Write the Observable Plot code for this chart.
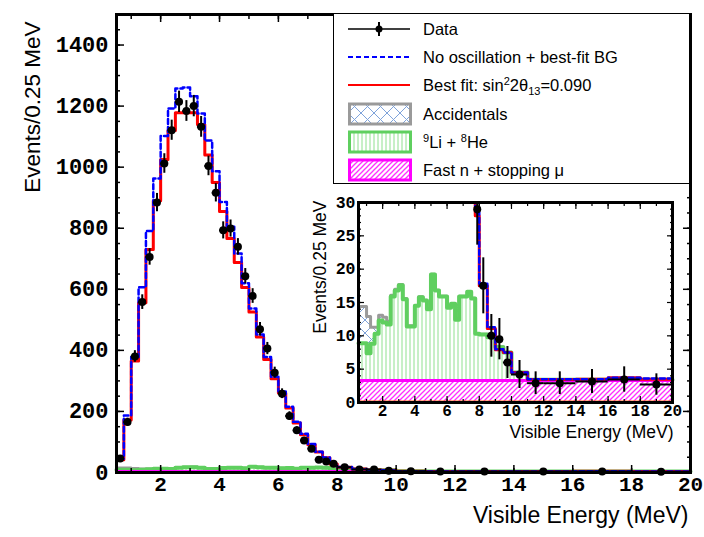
<!DOCTYPE html>
<html>
<head>
<meta charset="utf-8">
<script src="https://cdn.jsdelivr.net/npm/d3@7"></script>
<script src="https://cdn.jsdelivr.net/npm/@observablehq/plot@0.6"></script>
<style>
  html, body { margin: 0; padding: 0; background: #fff; }
  #wrap { position: relative; width: 704px; height: 537px; overflow: hidden; }
  #wrap svg { overflow: visible; }
  #legend { position: absolute; left: 333px; top: 13px; width: 355px; height: 169px;
    border: 1.5px solid #000; background: #fff; font-family: "Liberation Sans", Arial, sans-serif;
    font-size: 16.5px; color: #000; }
  #legend .row { position: absolute; left: 0; height: 28px; width: 100%; }
  #legend .sw { position: absolute; left: 14px; top: 0; }
  #legend .tx { position: absolute; left: 89px; top: 4px; white-space: nowrap; line-height: 20px; }
  #legend sup, #legend sub { font-size: 11px; line-height: 0; }
</style>
</head>
<body>
<svg width="0" height="0" style="position:absolute">
  <defs>
    <pattern id="hatchMag" patternUnits="userSpaceOnUse" width="5" height="5">
      <line x1="0" y1="5" x2="5" y2="0" style="stroke:#ff30ff;stroke-width:1.3"/>
      <line x1="-1" y1="1" x2="1" y2="-1" style="stroke:#ff30ff;stroke-width:1.3"/>
      <line x1="4" y1="6" x2="6" y2="4" style="stroke:#ff30ff;stroke-width:1.3"/>
    </pattern>
    <pattern id="hatchGreen" patternUnits="userSpaceOnUse" width="4" height="10">
      <line x1="2" y1="0" x2="2" y2="10" style="stroke:#8fe08f;stroke-width:1"/>
    </pattern>
    <pattern id="hatchAcc" patternUnits="userSpaceOnUse" width="13" height="13">
      <line x1="0" y1="0" x2="13" y2="13" style="stroke:#7fa3da;stroke-width:1"/>
      <line x1="0" y1="13" x2="13" y2="0" style="stroke:#7fa3da;stroke-width:1"/>
    </pattern>
  </defs>
</svg>
<div id="wrap"></div>
<script>
// ---- Data ----
const binEdges = [0.5,0.75,1,1.25,1.5,1.75,2,2.25,2.5,2.75,3,3.25,3.5,3.75,4,4.25,4.5,4.75,5,5.25,5.5,5.75,6,6.25,6.5,6.75,7,7.25,7.5,7.75,8,8.5,9,9.5,10,11,12,14,16,18,20];
const dataValues = [46,165,380,558,706,884,1012,1121,1214,1184,1200,1132,1004,916,793,799,739,643,578,469,406,327,258,185,138,105,78,42,36,29,17.5,10,9.5,6,4.2,2.9,2.9,3.15,3.45,2.7];
const dataErrors = [7,13,19,24,27,30,32,33,35,34,35,34,32,30,28,28,27,25,24,22,20,18,16,14,12,10,9,6.5,6,5.4,4.2,3.2,3.1,2.4,2.1,1.7,1.7,1.8,1.9,1.6];
const bestFit = [42,172,365,556,730,890,1025,1120,1178,1178,1178,1140,1040,950,855,766,688,606,526,444,370,307,260,211,162,124,91,67,48,28,17.5,11.1,7.9,7.5,4.5,3.45,3.45,3.5,3.7,3.5];
const noOsc = [45,187,378,607,791,963,1102,1192,1258,1261,1232,1176,1087,987,886,805,717,620,537,452,378,314,265,215,166,127,93,68,49,28.5,17.8,11.3,8.0,7.5,4.5,3.5,3.5,3.5,3.7,3.6];
const fastN = [3.3,3.3,3.3,3.3,3.3,3.3,3.3,3.3,3.3,3.3,3.3,3.3,3.3,3.3,3.3,3.3,3.3,3.3,3.3,3.3,3.3,3.3,3.3,3.3,3.3,3.3,3.3,3.3,3.3,3.3,3.3,3.3,3.3,3.3,3.3,3.3,3.3,3.3,3.3,3.3];
const li9He8 = [5.6,5.6,4.1,5.5,7.0,9.0,8.7,8.4,12.6,13.5,14.3,12.2,8.1,8.1,11.2,12.5,12.0,10.7,15.9,13.5,12.6,12.6,10.9,11.5,9.1,12.6,12.6,13.3,12.3,7.0,6.9,6.5,5.0,4.2,1.2,0.1,0.1,0.1,0.1,0.1];
const accidentals = [5.5,5.5,5.5,2.5,1.0,0.8,0.8,0.5,0.2,0.2,0.1,0.1,0.1,0.1,0.05,0.05,0.05,0.05,0.05,0.05,0.05,0.05,0.05,0.05,0.05,0.05,0.05,0.05,0.05,0.05,0.05,0.05,0.05,0.05,0,0,0,0,0,0];
const amcBG = [0.2,0.2,0.2,0.2,0.2,0.2,0.2,0.2,0.2,0.2,0.2,0.2,0.2,0.2,0.2,0.2,0.2,0.2,0.2,0.2,0.2,0.2,0.2,0.2,0.2,0.2,0.2,0.2,0.2,0.2,0.2,0.2,0.2,0.2,0.2,0.2,0.2,0.2,0.2,0.2];
const mainYTicks = [0,200,400,600,800,1000,1200,1400];
const xTicks = [2,4,6,8,10,12,14,16,18,20];
const insetYTicks = [0,5,10,15,20,25,30];

// ---- Derived structures ----
const greenTop = fastN.map((v,i) => v + li9He8[i]);
const grayTop = greenTop.map((v,i) => v + accidentals[i]);
const zeros = fastN.map(() => 0);
const points = dataValues.map((v,i) => ({
  x: (binEdges[i] + binEdges[i+1]) / 2, x0: binEdges[i], x1: binEdges[i+1],
  y: v, lo: v - dataErrors[i], hi: v + dataErrors[i]
}));
function stepLine(vals, fromZero) {
  const pts = [];
  if (fromZero) pts.push({x: binEdges[0], y: 0});
  vals.forEach((v,i) => { pts.push({x: binEdges[i], y: v}); pts.push({x: binEdges[i+1], y: v}); });
  return pts;
}
function stepBand(lower, upper) {
  const pts = [];
  upper.forEach((v,i) => {
    pts.push({x: binEdges[i], y1: lower[i], y2: v});
    pts.push({x: binEdges[i+1], y1: lower[i], y2: v});
  });
  return pts;
}

const RED = "#ff0000", BLUE = "#0000ff", GREEN = "#5fcf5f", GRAY = "#9a9a9a", MAG = "#ff00ff", ORANGE = "#ff6a10";
const mono = "'Liberation Mono', 'DejaVu Sans Mono', monospace";
const sans = "'Liberation Sans', Arial, sans-serif";
const fmt = d => String(d);

function layers(o) {
  const pts = o.ymax ? points.filter(d => d.y <= o.ymax) : points;
  return [
    Plot.areaY(stepBand(zeros, fastN), {x: "x", y1: "y1", y2: "y2", fill: "url(#hatchMag)"}),
    Plot.areaY(stepBand(fastN, greenTop), {x: "x", y1: "y1", y2: "y2", fill: "url(#hatchGreen)"}),
    Plot.areaY(stepBand(greenTop, grayTop), {x: "x", y1: "y1", y2: "y2", fill: "url(#hatchAcc)"}),
    Plot.line(stepLine(grayTop), {x: "x", y: "y", stroke: GRAY, strokeWidth: o.bgw - 0.5}),
    Plot.line(stepLine(greenTop), {x: "x", y: "y", stroke: GREEN, strokeWidth: o.bgw + 0.5}),
    Plot.line(stepLine(fastN), {x: "x", y: "y", stroke: MAG, strokeWidth: o.bgw - 0.5}),
    Plot.line(stepLine(amcBG), {x: "x", y: "y", stroke: ORANGE, strokeWidth: 1.5}),
    Plot.line(stepLine(bestFit, true), {x: "x", y: "y", stroke: RED, strokeWidth: o.lw + 0.5}),
    Plot.line(stepLine(noOsc, true), {x: "x", y: "y", stroke: BLUE, strokeWidth: o.lw, strokeDasharray: "5,3"}),
    Plot.ruleX(pts, {x: "x", y1: "lo", y2: "hi", stroke: "black", strokeWidth: 2}),
    Plot.ruleY(pts, {y: "y", x1: "x0", x2: "x1", stroke: "black", strokeWidth: 2}),
    Plot.dot(pts, {x: "x", y: "y", r: o.r, fill: "black", stroke: "none"})
  ];
}

// ---- Main plot ----
const main = Plot.plot({
  width: 704, height: 537,
  marginLeft: 116, marginRight: 14, marginTop: 14, marginBottom: 65,
  style: {background: "transparent", fontFamily: mono},
  x: {domain: [0.5, 20]},
  y: {domain: [0, 1500]},
  marks: [
    ...layers({bgw: 3.5, lw: 2.5, r: 4}),
    Plot.frame({stroke: "black", strokeWidth: 3}),
    Plot.axisY({anchor: "left", ticks: d3.range(0, 1501, 50), tickSize: -4, tickFormat: () => "", label: null, strokeWidth: 1.5}),
    Plot.axisY({anchor: "left", ticks: mainYTicks, tickSize: -8, tickFormat: () => "", label: null, strokeWidth: 1.5}),
    Plot.axisY({anchor: "right", ticks: d3.range(0, 1501, 50), tickSize: -4, tickFormat: () => "", label: null, strokeWidth: 1.5}),
    Plot.axisY({anchor: "right", ticks: mainYTicks, tickSize: -8, tickFormat: () => "", label: null, strokeWidth: 1.5}),
    Plot.axisX({anchor: "bottom", ticks: d3.range(1, 21, 1), tickSize: -4, tickFormat: () => "", label: null, strokeWidth: 1.5}),
    Plot.axisX({anchor: "bottom", ticks: xTicks, tickSize: -7, tickFormat: () => "", label: null, strokeWidth: 1.5}),
    Plot.axisX({anchor: "top", ticks: d3.range(1, 21, 1), tickSize: -4, tickFormat: () => "", label: null, strokeWidth: 1.5}),
    Plot.axisX({anchor: "top", ticks: xTicks, tickSize: -7, tickFormat: () => "", label: null, strokeWidth: 1.5}),
    Plot.axisY({anchor: "left", ticks: mainYTicks, tickSize: 0, tickPadding: 8, label: null, tickFormat: fmt,
      fontSize: 22, fontWeight: "bold", fontFamily: mono}),
    Plot.axisX({anchor: "bottom", ticks: xTicks, tickSize: 0, tickPadding: 4, label: null, tickFormat: fmt,
      fontSize: 21, fontWeight: "bold", fontFamily: mono}),
    Plot.text(["Events/0.25 MeV"], {text: d => d, frameAnchor: "top-left", rotate: -90, textAnchor: "end",
      dx: -92, dy: 7, fontSize: 22.5, fontFamily: sans, fill: "black"}),
    Plot.text(["Visible Energy (MeV)"], {text: d => d, frameAnchor: "bottom-right", textAnchor: "end",
      dx: -2, dy: 50, fontSize: 23, fontFamily: sans, fill: "black"})
  ]
});
main.style.position = "absolute"; main.style.left = "0px"; main.style.top = "0px";
document.getElementById("wrap").appendChild(main);

// ---- Inset ----
const inset = Plot.plot({
  width: 390, height: 260,
  marginLeft: 58, marginRight: 18, marginTop: 12, marginBottom: 48,
  style: {background: "transparent", fontFamily: mono},
  x: {domain: [0.5, 20]},
  y: {domain: [0, 30], clamp: true},
  marks: [
    Plot.frame({fill: "white"}),
    ...layers({bgw: 3.5, lw: 2.5, r: 4, ymax: 30}),
    Plot.frame({stroke: "black", strokeWidth: 3}),
    Plot.axisY({anchor: "left", ticks: d3.range(0, 31, 1), tickSize: -3, tickFormat: () => "", label: null, strokeWidth: 1.2}),
    Plot.axisY({anchor: "left", ticks: insetYTicks, tickSize: -6, tickFormat: () => "", label: null, strokeWidth: 1.2}),
    Plot.axisY({anchor: "right", ticks: d3.range(0, 31, 1), tickSize: -3, tickFormat: () => "", label: null, strokeWidth: 1.2}),
    Plot.axisY({anchor: "right", ticks: insetYTicks, tickSize: -6, tickFormat: () => "", label: null, strokeWidth: 1.2}),
    Plot.axisX({anchor: "bottom", ticks: d3.range(1, 21, 1), tickSize: -3, tickFormat: () => "", label: null, strokeWidth: 1.2}),
    Plot.axisX({anchor: "bottom", ticks: xTicks, tickSize: -6, tickFormat: () => "", label: null, strokeWidth: 1.2}),
    Plot.axisX({anchor: "top", ticks: d3.range(1, 21, 1), tickSize: -3, tickFormat: () => "", label: null, strokeWidth: 1.2}),
    Plot.axisX({anchor: "top", ticks: xTicks, tickSize: -6, tickFormat: () => "", label: null, strokeWidth: 1.2}),
    Plot.axisY({anchor: "left", ticks: insetYTicks, tickSize: 0, tickPadding: 3, label: null, tickFormat: fmt,
      fontSize: 16.5, fontWeight: "bold", fontFamily: mono}),
    Plot.axisX({anchor: "bottom", ticks: xTicks, tickSize: 0, tickPadding: 2, label: null, tickFormat: fmt,
      fontSize: 16, fontWeight: "bold", fontFamily: mono}),
    Plot.text(["Events/0.25 MeV"], {text: d => d, frameAnchor: "top-left", rotate: -90, textAnchor: "end",
      dx: -45, dy: -2, fontSize: 17.5, fontFamily: sans, fill: "black"}),
    Plot.text(["Visible Energy (MeV)"], {text: d => d, frameAnchor: "bottom-right", textAnchor: "end",
      dx: 1, dy: 35, fontSize: 17.5, fontFamily: sans, fill: "black"})
  ]
});
inset.style.position = "absolute"; inset.style.left = "300px"; inset.style.top = "190px";
document.getElementById("wrap").appendChild(inset);

// ---- Legend ----
const legendItems = [
  {sw: `<line x1="0" y1="14" x2="62" y2="14" stroke="black" stroke-width="1.5"/><line x1="31" y1="7" x2="31" y2="21" stroke="black" stroke-width="2"/><circle cx="31" cy="14" r="3.5" fill="black"/>`, text: "Data"},
  {sw: `<line x1="0" y1="14" x2="62" y2="14" stroke="${BLUE}" stroke-width="2" stroke-dasharray="5,3"/>`, text: "No oscillation + best-fit BG"},
  {sw: `<line x1="0" y1="14" x2="62" y2="14" stroke="${RED}" stroke-width="2"/>`, text: "Best fit: sin<sup>2</sup>2θ<sub>13</sub>=0.090"},
  {sw: `<rect x="1.5" y="4" width="61" height="20" fill="url(#hatchAcc)" stroke="${GRAY}" stroke-width="3"/>`, text: "Accidentals"},
  {sw: `<rect x="1.5" y="4" width="61" height="20" fill="url(#hatchGreen)" stroke="${GREEN}" stroke-width="3"/>`, text: "<sup>9</sup>Li + <sup>8</sup>He"},
  {sw: `<rect x="1.5" y="4" width="61" height="20" fill="url(#hatchMag)" stroke="${MAG}" stroke-width="3"/>`, text: "Fast n + stopping μ"}
];
const legend = document.createElement("div");
legend.id = "legend";
legend.innerHTML = legendItems.map((d,i) =>
  `<div class="row" style="top:${1 + i*28.2}px"><svg class="sw" width="64" height="28">${d.sw}</svg><div class="tx">${d.text}</div></div>`
).join("");
document.getElementById("wrap").appendChild(legend);
</script>
</body>
</html>
